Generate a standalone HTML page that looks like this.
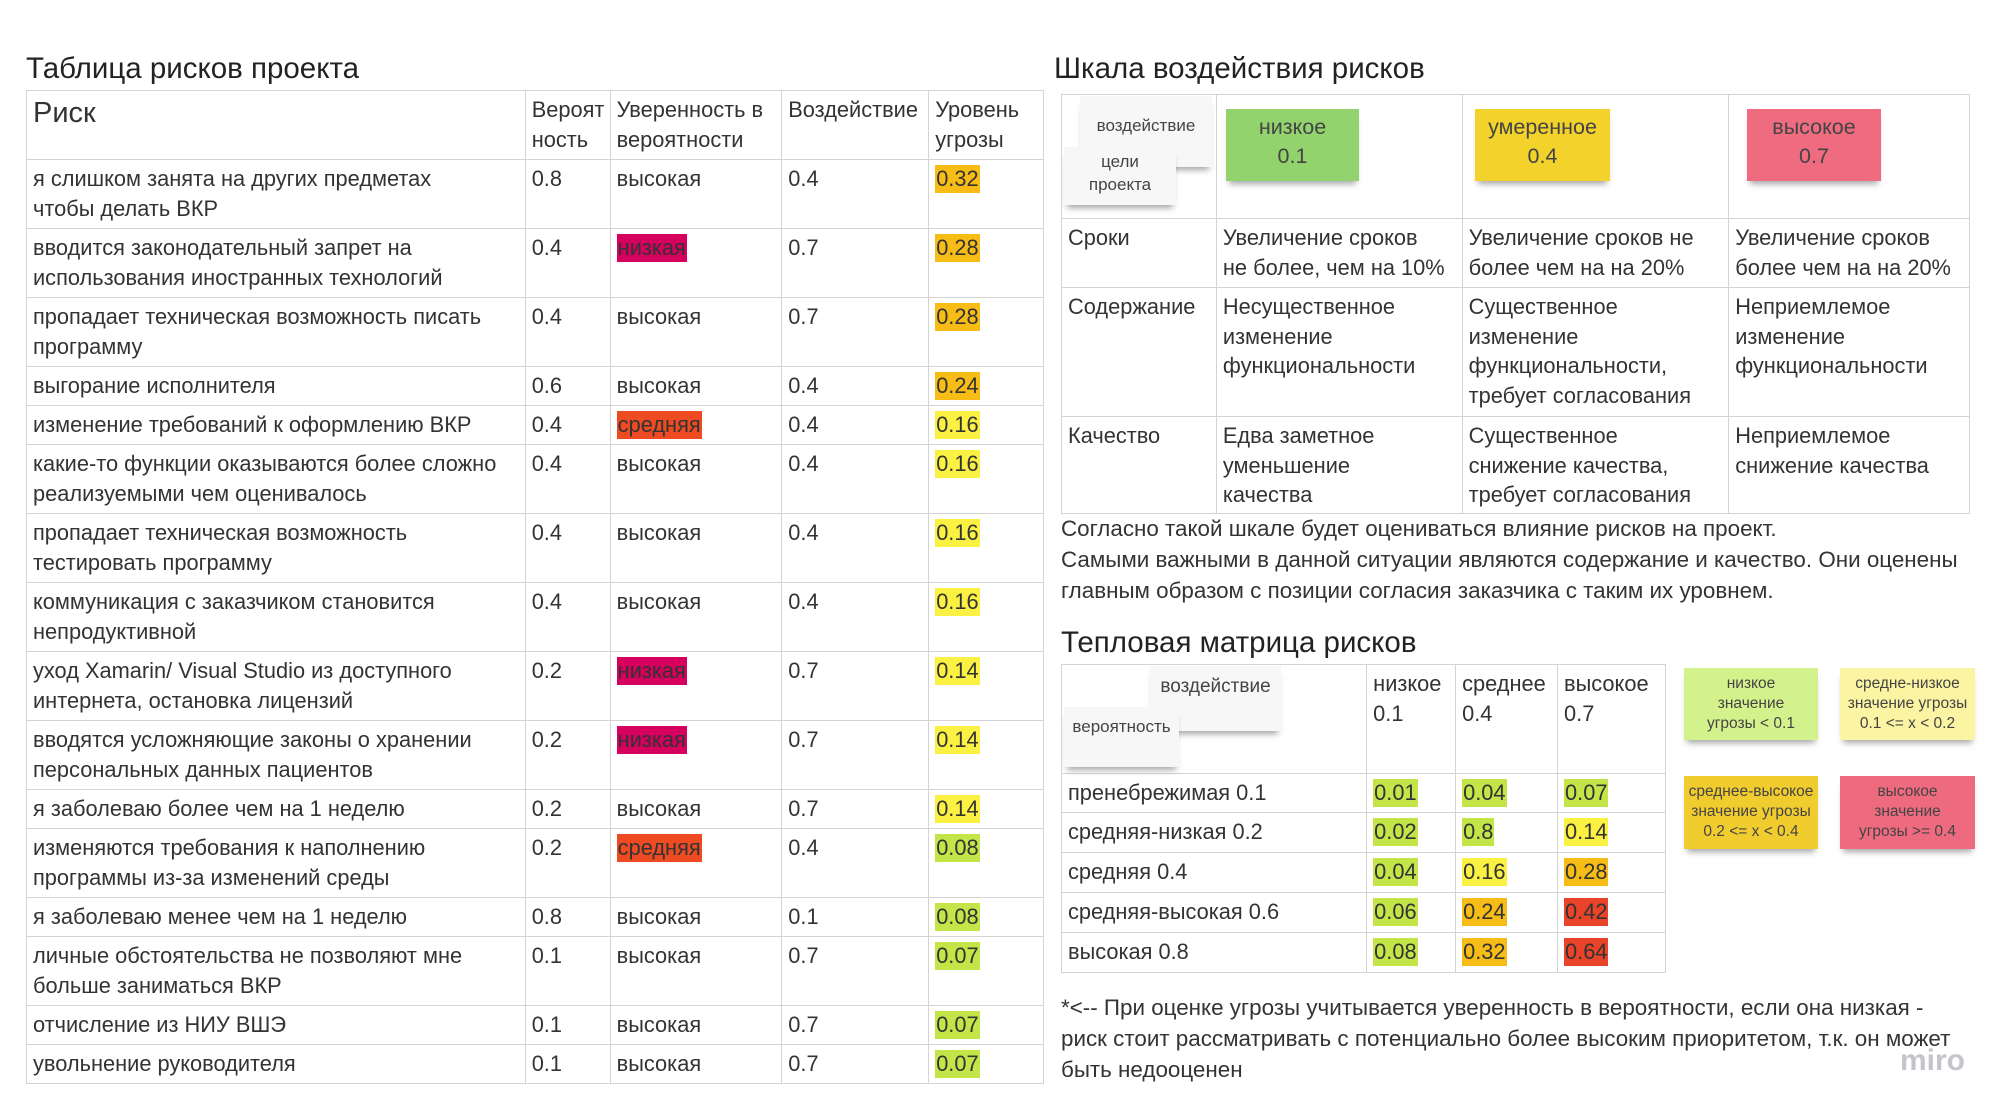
<!DOCTYPE html>
<html><head><meta charset="utf-8">
<style>
*{box-sizing:border-box;margin:0;padding:0}
body{width:2011px;height:1118px;background:#fff;position:relative;overflow:hidden;font-family:"Liberation Sans","Noto Sans CJK SC",sans-serif;color:#333}
.abs{position:absolute}
.title{font-size:29.5px;color:#222;white-space:nowrap}
table{border-collapse:collapse;position:absolute}
td{border:1.5px solid #d4d4d4;vertical-align:top;font-size:21.8px;line-height:29.5px;padding:4px 5px 0 6px;color:#333}
.hl{padding:0 1px;display:inline-block;line-height:28px}
.note{position:absolute;text-align:center;box-shadow:0 6px 6px -3px rgba(0,0,0,0.35);color:#444}
.wnote{position:absolute;background:#f7f7f7;box-shadow:0 6px 6px -3px rgba(0,0,0,0.35);font-size:17px;color:#444;text-align:center}
p.t{position:absolute;font-size:22.4px;line-height:31px;color:#333;white-space:nowrap}
</style></head><body>
<div class="abs title" style="left:26px;top:52px">Таблица рисков проекта</div>
<table id="risk" style="left:26px;top:90px;width:1018px">
<colgroup><col style="width:499px"><col style="width:85px"><col style="width:172px"><col style="width:147px"><col style="width:115px"></colgroup>
<tr style="height:69px"><td style="font-size:29px;line-height:36px">Риск</td><td>Вероят<br>ность</td><td>Уверенность в вероятности</td><td>Воздействие</td><td>Уровень угрозы</td></tr>
</table>

<div class="abs title" style="left:1054px;top:52px">Шкала воздействия рисков</div>
<table style="left:1061px;top:94px;width:909px">
<colgroup><col style="width:155px"><col style="width:246px"><col style="width:267px"><col style="width:241px"></colgroup>
<tr style="height:124px"><td></td><td></td><td></td><td></td></tr>
<tr style="height:69px"><td>Сроки</td><td>Увеличение сроков<br>не более, чем на 10%</td><td>Увеличение сроков не<br>более чем на на 20%</td><td>Увеличение сроков<br>более чем на на 20%</td></tr>
<tr style="height:129px"><td>Содержание</td><td>Несущественное<br>изменение<br>функциональности</td><td>Существенное<br>изменение<br>функциональности,<br>требует согласования</td><td>Неприемлемое<br>изменение<br>функциональности</td></tr>
<tr style="height:97px"><td>Качество</td><td>Едва заметное<br>уменьшение<br>качества</td><td>Существенное<br>снижение качества,<br>требует согласования</td><td>Неприемлемое<br>снижение качества</td></tr>
</table>
<div class="wnote" style="left:1080px;top:96px;width:132px;height:71px;padding-top:20px">воздействие</div>
<div class="wnote" style="left:1064px;top:147px;width:112px;height:58px;padding-top:3px;line-height:23px">цели<br>проекта</div>
<div class="note" style="left:1226px;top:109px;width:133px;height:72px;background:#92d36e;font-size:21.5px;line-height:29px;padding-top:4px">низкое<br>0.1</div>
<div class="note" style="left:1475px;top:109px;width:135px;height:72px;background:#f3d22b;font-size:21.5px;line-height:29px;padding-top:4px">умеренное<br>0.4</div>
<div class="note" style="left:1747px;top:109px;width:134px;height:72px;background:#ef6b80;font-size:21.5px;line-height:29px;padding-top:4px">высокое<br>0.7</div>

<p class="t" style="left:1061px;top:513px">Согласно такой шкале будет оцениваться влияние рисков на проект.<br>Самыми важными в данной ситуации являются содержание и качество. Они оценены<br>главным образом с позиции согласия заказчика с таким их уровнем.</p>

<div class="abs title" style="left:1061px;top:626px">Тепловая матрица рисков</div>
<table id="heat" style="left:1061px;top:664px;width:605px">
<colgroup><col style="width:306px"><col style="width:89px"><col style="width:102px"><col style="width:108px"></colgroup>
<tr style="height:109px"><td></td><td>низкое 0.1</td><td>среднее 0.4</td><td>высокое 0.7</td></tr>
</table>
<div class="wnote" style="left:1150px;top:666px;width:131px;height:65px;padding-top:10px;font-size:19px">воздействие</div>
<div class="wnote" style="left:1064px;top:707px;width:115px;height:60px;padding-top:10px">вероятность</div>
<div class="note" style="left:1684px;top:668px;width:134px;height:72px;background:#d4f28c;font-size:15.5px;line-height:20px;padding-top:6px">низкое<br>значение<br>угрозы &lt; 0.1</div>
<div class="note" style="left:1840px;top:668px;width:135px;height:72px;background:#fbf4a3;font-size:15.5px;line-height:20px;padding-top:6px">средне-низкое<br>значение угрозы<br>0.1 &lt;= x &lt; 0.2</div>
<div class="note" style="left:1684px;top:776px;width:134px;height:73px;background:#f1cc2f;font-size:15.5px;line-height:20px;padding-top:6px">среднее-высокое<br>значение угрозы<br>0.2 &lt;= x &lt; 0.4</div>
<div class="note" style="left:1840px;top:776px;width:135px;height:73px;background:#ee6a7e;font-size:15.5px;line-height:20px;padding-top:6px">высокое<br>значение<br>угрозы &gt;= 0.4</div>

<p class="t" style="left:1061px;top:992px">*&lt;-- При оценке угрозы учитывается уверенность в вероятности, если она низкая -<br>риск стоит рассматривать с потенциально более высоким приоритетом, т.к. он может<br>быть недооценен</p>
<div class="abs" style="left:1900px;top:1044px;font-size:30px;color:#c4c4cc;font-weight:bold">miro</div>

<script>
const risks=["я слишком занята на других предметах<br>чтобы делать ВКР","вводится законодательный запрет на<br>использования иностранных технологий","пропадает техническая возможность писать<br>программу","выгорание исполнителя","изменение требований к оформлению ВКР","какие-то функции оказываются более сложно<br>реализуемыми чем оценивалось","пропадает техническая возможность<br>тестировать программу","коммуникация с заказчиком становится<br>непродуктивной","уход Xamarin/ Visual Studio из доступного<br>интернета, остановка лицензий","вводятся усложняющие законы о хранении<br>персональных данных пациентов","я заболеваю более чем на 1 неделю","изменяются требования к наполнению<br>программы из-за изменений среды","я заболеваю менее чем на 1 неделю","личные обстоятельства не позволяют мне<br>больше заниматься ВКР","отчисление из НИУ ВШЭ","увольнение руководителя"];
const probs=[0.8,0.4,0.4,0.6,0.4,0.4,0.4,0.4,0.2,0.2,0.2,0.2,0.8,0.1,0.1,0.1];
const confidence=["высокая","низкая","высокая","высокая","средняя","высокая","высокая","высокая","низкая","низкая","высокая","средняя","высокая","высокая","высокая","высокая"];
const impacts=[0.4,0.7,0.7,0.4,0.4,0.4,0.4,0.4,0.7,0.7,0.7,0.4,0.1,0.7,0.7,0.7];
const threats=[0.32,0.28,0.28,0.24,0.16,0.16,0.16,0.16,0.14,0.14,0.14,0.08,0.08,0.07,0.07,0.07];
const lineCounts=[2,2,2,1,1,2,2,2,2,2,1,2,1,2,1,1];
const heatRows=["пренебрежимая 0.1","средняя-низкая 0.2","средняя 0.4","средняя-высокая 0.6","высокая 0.8"];
const heatVals=[[0.01,0.04,0.07],[0.02,0.8,0.14],[0.04,0.16,0.28],[0.06,0.24,0.42],[0.08,0.32,0.64]];
const heatColors=[["g","g","g"],["g","g","y"],["g","y","o"],["g","o","r"],["g","o","r"]];
const pal={g:"#c3e548",y:"#fbf142",o:"#f7bd16",r:"#e9442a"};
function threatColor(v){return v>=0.4?pal.r:v>=0.2?pal.o:v>=0.1?pal.y:pal.g;}
function confColor(c){return c==="низкая"?"#d6005f":c==="средняя"?"#ee4b22":null;}
const rt=document.getElementById('risk');
risks.forEach((r,i)=>{
  const tr=document.createElement('tr');
  
  
  tr.style.height=(lineCounts[i]===2?69:39)+'px';
  const cc=confColor(confidence[i]);
  const confHtml=cc?`<span class="hl" style="background:${cc}">${confidence[i]}</span>`:confidence[i];
  tr.innerHTML=`<td style="white-space:nowrap">${r}</td><td>${probs[i]}</td><td>${confHtml}</td><td>${impacts[i]}</td><td><span class="hl" style="background:${threatColor(threats[i])}">${threats[i].toFixed(2)}</span></td>`;
  rt.appendChild(tr);
});
const ht=document.getElementById('heat');
heatRows.forEach((r,i)=>{
  const tr=document.createElement('tr');
  
  
  tr.style.height=(i===0?39:40)+'px';
  let h=`<td>${r}</td>`;
  heatVals[i].forEach((v,j)=>{h+=`<td><span class="hl" style="background:${pal[heatColors[i][j]]}">${v}</span></td>`;});
  tr.innerHTML=h;
  ht.appendChild(tr);
});
</script>
</body></html>
